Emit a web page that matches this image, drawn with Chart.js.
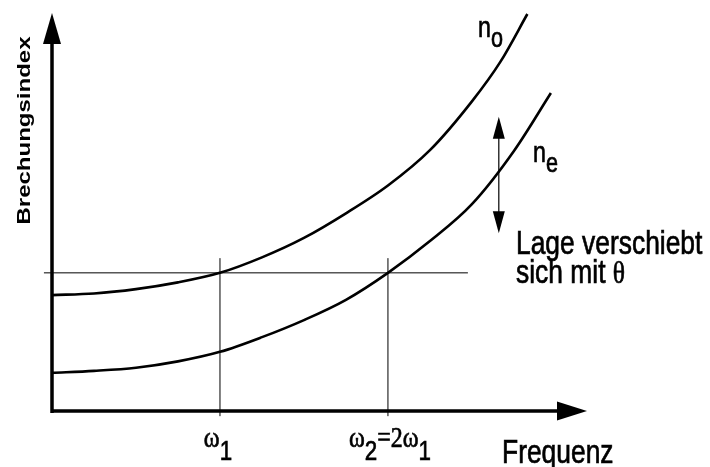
<!DOCTYPE html>
<html>
<head>
<meta charset="utf-8">
<script src="https://cdn.jsdelivr.net/npm/chart.js@4/dist/chart.umd.min.js"></script>
<style>
  html, body { margin: 0; padding: 0; background: #fff; }
  #wrap { width: 710px; height: 467px; position: relative; }
</style>
</head>
<body>
<div id="wrap"><canvas id="myChart"></canvas></div>
<script>
// frequency in units of omega_1, refractive index in arbitrary units
const freq = [0, 0.25, 0.5, 0.75, 1.0, 1.25, 1.5, 1.75, 2.0, 2.25, 2.5, 2.67, 2.83];
const nOrd = [2.92, 2.96, 3.07, 3.24, 3.48, 3.87, 4.36, 4.98, 5.68, 6.57, 7.80, 8.80, 10.0];

const freqE = [0, 0.25, 0.5, 0.75, 1.0, 1.25, 1.5, 1.75, 2.0, 2.25, 2.5, 2.75, 2.97];
const nExt = [0.96, 1.01, 1.09, 1.25, 1.49, 1.86, 2.29, 2.80, 3.48, 4.28, 5.21, 6.55, 8.01];

const omegaTicks = [1, 2];
const nLevel = 3.48;           // n_o(omega1) = n_e(omega2)
const levelSpan = [-0.048, 2.476];
const tickSpan = [-0.13, 3.85];
const shiftArrowX = 2.66;
const shiftArrowSpan = [4.48, 7.41];

const xMax = 3.185;
const yMax = 10;

const SX = 0.8; // the original drawing is squeezed horizontally

function pts(xs, ys) {
    return xs.map((x, i) => ({ x: x, y: ys[i] }));
}

function txt(ctx, s, x, y, font, align) {
    ctx.save();
    ctx.font = font;
    ctx.scale(SX, 1);
    ctx.textAlign = align || 'left';
    ctx.textBaseline = 'alphabetic';
    ctx.lineWidth = 0.7;
    ctx.fillText(s, x / SX, y);
    ctx.strokeText(s, x / SX, y);
    const w = ctx.measureText(s).width * SX;
    ctx.restore();
    return w;
}

function wid(ctx, s, font) {
    ctx.save();
    ctx.font = font;
    const w = ctx.measureText(s).width * SX;
    ctx.restore();
    return w;
}

const SANS = '"Liberation Sans", Arial, sans-serif';
const SERIF = '"Liberation Serif", "Times New Roman", serif';

const decor = {
    id: 'decor',
    afterDatasetsDraw(chart) {
        const ctx = chart.ctx;
        const a = chart.chartArea;
        const xs = chart.scales.x, ys = chart.scales.y;
        ctx.save();
        ctx.fillStyle = '#000';
        ctx.strokeStyle = '#000';

        // axes
        ctx.lineWidth = 3.5;
        ctx.beginPath();
        ctx.moveTo(a.left, a.bottom + 2);
        ctx.lineTo(a.left, a.top + 28);
        ctx.moveTo(a.left - 1, a.bottom);
        ctx.lineTo(a.right - 28, a.bottom);
        ctx.stroke();
        ctx.beginPath();
        ctx.moveTo(a.left, a.top - 1);
        ctx.lineTo(a.left - 9, a.top + 30);
        ctx.lineTo(a.left + 9, a.top + 30);
        ctx.closePath();
        ctx.fill();
        ctx.beginPath();
        ctx.moveTo(a.right, a.bottom);
        ctx.lineTo(a.right - 30, a.bottom - 9.5);
        ctx.lineTo(a.right - 30, a.bottom + 9.5);
        ctx.closePath();
        ctx.fill();

        // double arrow
        const ax = xs.getPixelForValue(shiftArrowX);
        const y1 = ys.getPixelForValue(shiftArrowSpan[1]);
        const y2 = ys.getPixelForValue(shiftArrowSpan[0]);
        ctx.lineWidth = 1.2;
        ctx.beginPath();
        ctx.moveTo(ax, y1 + 10);
        ctx.lineTo(ax, y2 - 10);
        ctx.stroke();
        ctx.beginPath();
        ctx.moveTo(ax, y1);
        ctx.lineTo(ax - 6, y1 + 22);
        ctx.lineTo(ax + 6, y1 + 22);
        ctx.closePath();
        ctx.fill();
        ctx.beginPath();
        ctx.moveTo(ax, y2);
        ctx.lineTo(ax - 6, y2 - 22);
        ctx.lineTo(ax + 6, y2 - 22);
        ctx.closePath();
        ctx.fill();

        // y axis title
        ctx.save();
        ctx.translate(29.5, 130.5);
        ctx.scale(SX, 1);
        ctx.rotate(-Math.PI / 2);
        ctx.font = 'bold 24px ' + SANS;
        ctx.textAlign = 'center';
        ctx.fillText('Brechungsindex', 0, 0);
        ctx.restore();

        // x axis title
        txt(ctx, 'Frequenz', 502, 463, '33px ' + SANS);

        // shift note
        txt(ctx, 'Lage verschiebt', 516, 254, '33px ' + SANS);
        let w = txt(ctx, 'sich mit ', 516, 283, '33px ' + SANS);
        txt(ctx, 'θ', 516 + w, 283, '32px ' + SERIF);

        // curve labels
        w = txt(ctx, 'n', 478, 37, '29px ' + SANS);
        txt(ctx, 'o', 478 + w, 47, '27px ' + SANS);
        w = txt(ctx, 'n', 533, 162, '29px ' + SANS);
        txt(ctx, 'e', 533 + w, 172, '27px ' + SANS);

        // omega tick labels
        const fo = '30px ' + SERIF, fs = '28px ' + SANS;
        let p1 = xs.getPixelForValue(omegaTicks[0]);
        let x0 = p1 - (wid(ctx, 'ω', fo) + wid(ctx, '1', fs)) / 2 - 2;
        x0 += txt(ctx, 'ω', x0, 447, fo);
        txt(ctx, '1', x0, 460, fs);

        let p2 = xs.getPixelForValue(omegaTicks[1]);
        const total = wid(ctx, 'ω', fo) + wid(ctx, '2', fs) + wid(ctx, '=2ω', fo) + wid(ctx, '1', fs);
        x0 = p2 - total / 2 + 2;
        x0 += txt(ctx, 'ω', x0, 447, fo);
        x0 += txt(ctx, '2', x0, 460, fs);
        x0 += txt(ctx, '=2ω', x0, 447, fo);
        txt(ctx, '1', x0, 460, fs);

        ctx.restore();
    }
};

const thin = { borderColor: '#000', borderWidth: 1, pointRadius: 0, showLine: true, clip: false, tension: 0 };
const curve = { borderColor: '#000', borderWidth: 2.6, pointRadius: 0, showLine: true, clip: false, cubicInterpolationMode: 'monotone' };

const chart = new Chart(document.getElementById('myChart'), {
    type: 'scatter',
    data: {
        datasets: [
            Object.assign({ label: 'n_o', data: pts(freq, nOrd) }, curve),
            Object.assign({ label: 'n_e', data: pts(freqE, nExt) }, curve),
            Object.assign({ label: 'level', data: pts(levelSpan, [nLevel, nLevel]) }, thin),
            Object.assign({ label: 'w1', data: pts([omegaTicks[0], omegaTicks[0]], tickSpan) }, thin),
            Object.assign({ label: 'w2', data: pts([omegaTicks[1], omegaTicks[1]], tickSpan) }, thin)
        ]
    },
    options: {
        responsive: true,
        maintainAspectRatio: false,
        animation: false,
        layout: { padding: { left: 52, right: 123, top: 14, bottom: 56 } },
        plugins: { legend: { display: false }, tooltip: { enabled: false } },
        scales: {
            x: { type: 'linear', min: 0, max: xMax, display: false },
            y: { type: 'linear', min: 0, max: yMax, display: false }
        }
    },
    plugins: [decor]
});
</script>
</body>
</html>
